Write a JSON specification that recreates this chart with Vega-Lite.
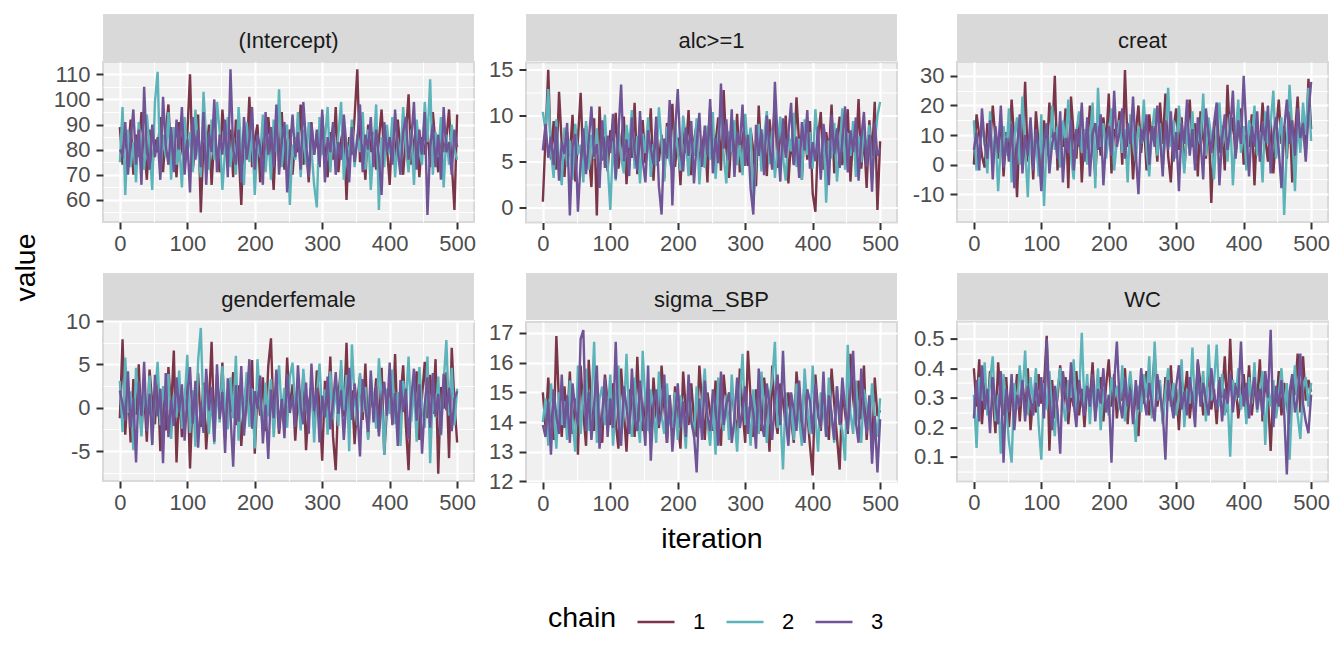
{
"$schema":"https://vega.github.io/schema/vega-lite/v6.json",
"padding":{"top":14,"left":0,"right":0,"bottom":0},
"background":"#FFFFFF",
"datasets":{
"a":[{"i":0,"1":89,"2":75,"3":80},{"i":4,"1":74,"2":97,"3":78},{"i":8,"1":85,"2":62,"3":91},{"i":12,"1":78,"2":88,"3":70},{"i":16,"1":92,"2":73,"3":84},{"i":20,"1":70,"2":83,"3":96},{"i":24,"1":86,"2":67,"3":74},{"i":28,"1":77,"2":91,"3":88},{"i":32,"1":95,"2":79,"3":66},{"i":36,"1":82,"2":72,"3":105},{"i":40,"1":68,"2":94,"3":79},{"i":44,"1":88,"2":81,"3":72},{"i":48,"1":73,"2":64,"3":90},{"i":52,"1":84,"2":99,"3":77},{"i":56,"1":79,"2":111,"3":85},{"i":60,"1":93,"2":70,"3":68},{"i":64,"1":71,"2":86,"3":101},{"i":68,"1":87,"2":77,"3":82},{"i":72,"1":98,"2":95,"3":74},{"i":76,"1":76,"2":68,"3":89},{"i":80,"1":83,"2":89,"3":71},{"i":84,"1":69,"2":74,"3":92},{"i":88,"1":91,"2":82,"3":80},{"i":92,"1":80,"2":65,"3":97},{"i":96,"1":74,"2":93,"3":70},{"i":100,"1":86,"2":78,"3":84},{"i":104,"1":110,"2":87,"3":63},{"i":108,"1":72,"2":71,"3":93},{"i":112,"1":81,"2":96,"3":76},{"i":116,"1":94,"2":80,"3":88},{"i":120,"1":55,"2":69,"3":73},{"i":124,"1":83,"2":103,"3":95},{"i":128,"1":77,"2":84,"3":66},{"i":132,"1":90,"2":72,"3":87},{"i":136,"1":66,"2":92,"3":79},{"i":140,"1":85,"2":76,"3":100},{"i":144,"1":79,"2":99,"3":71},{"i":148,"1":71,"2":87,"3":86},{"i":152,"1":96,"2":64,"3":78},{"i":156,"1":82,"2":80,"3":92},{"i":160,"1":75,"2":93,"3":69},{"i":164,"1":88,"2":73,"3":112},{"i":168,"1":69,"2":85,"3":80},{"i":172,"1":92,"2":70,"3":74},{"i":176,"1":80,"2":97,"3":88},{"i":180,"1":58,"2":79,"3":67},{"i":184,"1":87,"2":66,"3":93},{"i":188,"1":78,"2":91,"3":76},{"i":192,"1":101,"2":75,"3":84},{"i":196,"1":73,"2":88,"3":97},{"i":200,"1":84,"2":62,"3":72},{"i":204,"1":90,"2":83,"3":86},{"i":208,"1":67,"2":77,"3":81},{"i":212,"1":86,"2":94,"3":66},{"i":216,"1":76,"2":71,"3":95},{"i":220,"1":93,"2":86,"3":78},{"i":224,"1":81,"2":68,"3":89},{"i":228,"1":64,"2":92,"3":73},{"i":232,"1":89,"2":79,"3":98},{"i":236,"1":77,"2":104,"3":70},{"i":240,"1":95,"2":73,"3":84},{"i":244,"1":72,"2":85,"3":91},{"i":248,"1":83,"2":90,"3":63},{"i":252,"1":88,"2":58,"3":80},{"i":256,"1":70,"2":82,"3":94},{"i":260,"1":85,"2":76,"3":77},{"i":264,"1":79,"2":95,"3":87},{"i":268,"1":98,"2":69,"3":72},{"i":272,"1":74,"2":88,"3":99},{"i":276,"1":82,"2":74,"3":83},{"i":280,"1":67,"2":91,"3":69},{"i":284,"1":91,"2":80,"3":90},{"i":288,"1":78,"2":66,"3":78},{"i":292,"1":86,"2":57,"3":88},{"i":296,"1":73,"2":93,"3":74},{"i":300,"1":94,"2":78,"3":96},{"i":304,"1":80,"2":84,"3":67},{"i":308,"1":69,"2":97,"3":85},{"i":312,"1":87,"2":71,"3":79},{"i":316,"1":76,"2":89,"3":91},{"i":320,"1":97,"2":75,"3":70},{"i":324,"1":71,"2":86,"3":83},{"i":328,"1":84,"2":99,"3":76},{"i":332,"1":89,"2":68,"3":94},{"i":336,"1":60,"2":83,"3":81},{"i":340,"1":85,"2":77,"3":67},{"i":344,"1":78,"2":92,"3":89},{"i":348,"1":93,"2":73,"3":75},{"i":352,"1":112,"2":86,"3":84},{"i":356,"1":75,"2":79,"3":98},{"i":360,"1":82,"2":95,"3":71},{"i":364,"1":68,"2":72,"3":86},{"i":368,"1":90,"2":88,"3":80},{"i":372,"1":79,"2":64,"3":93},{"i":376,"1":87,"2":81,"3":73},{"i":380,"1":72,"2":98,"3":88},{"i":384,"1":84,"2":56,"3":77},{"i":388,"1":96,"2":85,"3":62},{"i":392,"1":77,"2":73,"3":91},{"i":396,"1":81,"2":90,"3":79},{"i":400,"1":66,"2":78,"3":85},{"i":404,"1":89,"2":93,"3":74},{"i":408,"1":75,"2":69,"3":96},{"i":412,"1":92,"2":84,"3":80},{"i":416,"1":80,"2":76,"3":70},{"i":420,"1":70,"2":97,"3":87},{"i":424,"1":86,"2":81,"3":93},{"i":428,"1":102,"2":71,"3":76},{"i":432,"1":74,"2":88,"3":84},{"i":436,"1":83,"2":66,"3":99},{"i":440,"1":91,"2":92,"3":72},{"i":444,"1":69,"2":79,"3":88},{"i":448,"1":85,"2":74,"3":78},{"i":452,"1":78,"2":99,"3":95},{"i":456,"1":88,"2":83,"3":54},{"i":460,"1":73,"2":108,"3":81},{"i":464,"1":95,"2":70,"3":90},{"i":468,"1":82,"2":87,"3":73},{"i":472,"1":71,"2":77,"3":86},{"i":476,"1":90,"2":93,"3":68},{"i":480,"1":79,"2":65,"3":97},{"i":484,"1":84,"2":86,"3":79},{"i":488,"1":96,"2":74,"3":83},{"i":492,"1":75,"2":90,"3":70},{"i":496,"1":56,"2":80,"3":88},{"i":500,"1":94,"2":76,"3":81}],
"b":[{"i":0,"1":0.6,"2":10.4,"3":6.2},{"i":4,"1":7.8,"2":8.3,"3":9.1},{"i":8,"1":15.0,"2":12.9,"3":5.4},{"i":12,"1":5.2,"2":6.1,"3":7.7},{"i":16,"1":9.4,"2":3.2,"3":4.6},{"i":20,"1":4.1,"2":9.6,"3":8.8},{"i":24,"1":12.6,"2":5.0,"3":2.9},{"i":28,"1":6.9,"2":2.4,"3":7.1},{"i":32,"1":3.3,"2":8.7,"3":5.8},{"i":36,"1":8.2,"2":4.4,"3":9.2},{"i":40,"1":5.6,"2":7.3,"3":-0.9},{"i":44,"1":10.1,"2":3.0,"3":6.6},{"i":48,"1":2.8,"2":9.1,"3":8.0},{"i":52,"1":7.4,"2":5.7,"3":-0.5},{"i":56,"1":12.5,"2":6.8,"3":4.9},{"i":60,"1":4.6,"2":2.7,"3":8.6},{"i":64,"1":8.9,"2":9.4,"3":3.6},{"i":68,"1":6.0,"2":4.1,"3":7.2},{"i":72,"1":2.2,"2":7.9,"3":11.0},{"i":76,"1":9.7,"2":5.3,"3":5.5},{"i":80,"1":-0.9,"2":8.6,"3":6.9},{"i":84,"1":11.0,"2":3.6,"3":2.1},{"i":88,"1":5.1,"2":6.4,"3":9.5},{"i":92,"1":7.7,"2":10.1,"3":4.3},{"i":96,"1":3.9,"2":4.8,"3":7.8},{"i":100,"1":8.4,"2":-0.3,"3":5.9},{"i":104,"1":6.3,"2":7.2,"3":10.2},{"i":108,"1":10.3,"2":2.9,"3":3.1},{"i":112,"1":4.2,"2":8.5,"3":8.1},{"i":116,"1":7.1,"2":5.4,"3":13.4},{"i":120,"1":9.9,"2":3.7,"3":5.0},{"i":124,"1":2.5,"2":9.0,"3":7.4},{"i":128,"1":8.0,"2":6.5,"3":3.4},{"i":132,"1":5.4,"2":10.6,"3":9.8},{"i":136,"1":11.4,"2":4.2,"3":6.1},{"i":140,"1":3.6,"2":7.8,"3":4.0},{"i":144,"1":7.3,"2":2.6,"3":10.5},{"i":148,"1":9.5,"2":8.0,"3":5.2},{"i":152,"1":4.8,"2":5.9,"3":2.7},{"i":156,"1":6.7,"2":9.8,"3":8.4},{"i":160,"1":10.8,"2":3.3,"3":6.3},{"i":164,"1":2.9,"2":6.9,"3":4.7},{"i":168,"1":8.6,"2":4.5,"3":9.9},{"i":172,"1":5.0,"2":10.9,"3":2.3},{"i":176,"1":7.9,"2":7.1,"3":-0.8},{"i":180,"1":3.1,"2":2.8,"3":7.5},{"i":184,"1":9.2,"2":8.8,"3":5.3},{"i":188,"1":6.1,"2":5.0,"3":11.7},{"i":192,"1":11.3,"2":3.8,"3":0.2},{"i":196,"1":4.4,"2":9.3,"3":8.3},{"i":200,"1":7.6,"2":6.2,"3":12.9},{"i":204,"1":2.4,"2":4.0,"3":6.0},{"i":208,"1":8.8,"2":10.0,"3":3.9},{"i":212,"1":5.9,"2":7.4,"3":8.7},{"i":216,"1":10.6,"2":3.4,"3":5.6},{"i":220,"1":3.5,"2":8.1,"3":9.4},{"i":224,"1":7.2,"2":5.6,"3":2.6},{"i":228,"1":9.0,"2":9.7,"3":7.0},{"i":232,"1":4.9,"2":2.5,"3":10.3},{"i":236,"1":6.6,"2":6.7,"3":4.4},{"i":240,"1":8.3,"2":4.3,"3":8.9},{"i":244,"1":2.7,"2":8.9,"3":5.7},{"i":248,"1":10.9,"2":5.2,"3":11.8},{"i":252,"1":5.3,"2":10.4,"3":3.7},{"i":256,"1":7.0,"2":3.1,"3":7.6},{"i":260,"1":9.8,"2":7.6,"3":4.8},{"i":264,"1":4.0,"2":11.1,"3":13.5},{"i":268,"1":12.8,"2":5.8,"3":6.4},{"i":272,"1":6.4,"2":2.6,"3":9.6},{"i":276,"1":3.2,"2":8.3,"3":5.1},{"i":280,"1":8.1,"2":6.0,"3":10.7},{"i":284,"1":5.7,"2":9.5,"3":3.3},{"i":288,"1":10.2,"2":4.6,"3":8.2},{"i":292,"1":3.8,"2":7.0,"3":6.8},{"i":296,"1":7.5,"2":3.5,"3":11.2},{"i":300,"1":9.3,"2":10.2,"3":4.5},{"i":304,"1":4.5,"2":6.3,"3":7.9},{"i":308,"1":8.5,"2":8.7,"3":2.0},{"i":312,"1":6.2,"2":0.2,"3":-0.8},{"i":316,"1":2.3,"2":5.1,"3":9.0},{"i":320,"1":11.1,"2":9.1,"3":5.6},{"i":324,"1":5.5,"2":3.9,"3":8.5},{"i":328,"1":7.8,"2":7.7,"3":3.5},{"i":332,"1":3.4,"2":10.5,"3":10.0},{"i":336,"1":9.6,"2":4.7,"3":6.5},{"i":340,"1":6.5,"2":8.4,"3":4.1},{"i":344,"1":11.6,"2":3.2,"3":13.7},{"i":348,"1":4.3,"2":6.6,"3":7.3},{"i":352,"1":8.7,"2":9.9,"3":2.8},{"i":356,"1":5.8,"2":5.5,"3":9.7},{"i":360,"1":10.0,"2":2.9,"3":5.4},{"i":364,"1":2.6,"2":8.0,"3":8.0},{"i":368,"1":7.4,"2":6.1,"3":11.4},{"i":372,"1":4.7,"2":10.3,"3":4.6},{"i":376,"1":12.0,"2":4.4,"3":7.7},{"i":380,"1":6.8,"2":7.5,"3":3.2},{"i":384,"1":3.0,"2":3.0,"3":9.3},{"i":388,"1":8.9,"2":9.6,"3":6.2},{"i":392,"1":5.2,"2":5.7,"3":10.6},{"i":396,"1":9.4,"2":8.2,"3":4.2},{"i":400,"1":1.5,"2":4.2,"3":7.1},{"i":404,"1":-0.5,"2":10.7,"3":5.0},{"i":408,"1":7.6,"2":6.9,"3":8.8},{"i":412,"1":10.4,"2":3.6,"3":3.0},{"i":416,"1":4.1,"2":8.6,"3":9.1},{"i":420,"1":8.2,"2":0.5,"3":6.7},{"i":424,"1":5.9,"2":7.3,"3":2.4},{"i":428,"1":11.2,"2":5.3,"3":10.1},{"i":432,"1":3.7,"2":9.2,"3":5.8},{"i":436,"1":7.3,"2":2.8,"3":8.6},{"i":440,"1":9.9,"2":6.4,"3":4.3},{"i":444,"1":4.6,"2":10.8,"3":7.2},{"i":448,"1":6.9,"2":4.1,"3":11.0},{"i":452,"1":10.7,"2":8.1,"3":3.8},{"i":456,"1":2.8,"2":5.6,"3":8.4},{"i":460,"1":8.0,"2":9.4,"3":6.0},{"i":464,"1":5.4,"2":3.3,"3":9.8},{"i":468,"1":11.8,"2":7.8,"3":2.9},{"i":472,"1":4.2,"2":4.9,"3":7.5},{"i":476,"1":7.9,"2":8.9,"3":10.4},{"i":480,"1":2.1,"2":5.8,"3":4.4},{"i":484,"1":9.5,"2":9.0,"3":7.9},{"i":488,"1":5.6,"2":2.7,"3":1.7},{"i":492,"1":11.5,"2":7.1,"3":9.2},{"i":496,"1":-0.3,"2":10.0,"3":5.6},{"i":500,"1":7.2,"2":11.5,"3":6.4}],
"c":[{"i":0,"1":0,"2":15,"3":5},{"i":4,"1":17,"2":-2,"3":11},{"i":8,"1":10,"2":5,"3":-2},{"i":12,"1":3,"2":12,"3":19},{"i":16,"1":-1,"2":8,"3":7},{"i":20,"1":14,"2":-3,"3":2},{"i":24,"1":6,"2":18,"3":15},{"i":28,"1":20,"2":1,"3":-5},{"i":32,"1":9,"2":11,"3":13},{"i":36,"1":2,"2":-9,"3":4},{"i":40,"1":16,"2":7,"3":20},{"i":44,"1":-4,"2":13,"3":-1},{"i":48,"1":11,"2":3,"3":9},{"i":52,"1":5,"2":19,"3":1},{"i":56,"1":22,"2":-6,"3":14},{"i":60,"1":8,"2":9,"3":-8},{"i":64,"1":-11,"2":16,"3":6},{"i":68,"1":13,"2":0,"3":17},{"i":72,"1":4,"2":23,"3":-3},{"i":76,"1":28,"2":6,"3":10},{"i":80,"1":1,"2":-11,"3":3},{"i":84,"1":12,"2":14,"3":16},{"i":88,"1":-5,"2":4,"3":-2},{"i":92,"1":18,"2":10,"3":12},{"i":96,"1":7,"2":-4,"3":5},{"i":100,"1":-3,"2":17,"3":-9},{"i":104,"1":15,"2":-14,"3":8},{"i":108,"1":3,"2":9,"3":14},{"i":112,"1":21,"2":2,"3":-3},{"i":116,"1":9,"2":20,"3":7},{"i":120,"1":30,"2":5,"3":11},{"i":124,"1":-2,"2":13,"3":2},{"i":128,"1":14,"2":-1,"3":18},{"i":132,"1":6,"2":15,"3":-6},{"i":136,"1":19,"2":7,"3":9},{"i":140,"1":-8,"2":22,"3":4},{"i":144,"1":23,"2":3,"3":15},{"i":148,"1":10,"2":-5,"3":-2},{"i":152,"1":2,"2":11,"3":12},{"i":156,"1":17,"2":18,"3":6},{"i":160,"1":-6,"2":4,"3":21},{"i":164,"1":11,"2":12,"3":1},{"i":168,"1":5,"2":0,"3":16},{"i":172,"1":20,"2":8,"3":-4},{"i":176,"1":8,"2":21,"3":10},{"i":180,"1":-4,"2":-8,"3":14},{"i":184,"1":13,"2":26,"3":5},{"i":188,"1":3,"2":6,"3":17},{"i":192,"1":16,"2":14,"3":-7},{"i":196,"1":7,"2":2,"3":8},{"i":200,"1":24,"2":10,"3":13},{"i":204,"1":-3,"2":19,"3":3},{"i":208,"1":12,"2":-2,"3":25},{"i":212,"1":9,"2":8,"3":6},{"i":216,"1":18,"2":15,"3":11},{"i":220,"1":0,"2":4,"3":19},{"i":224,"1":32,"2":12,"3":2},{"i":228,"1":6,"2":-6,"3":14},{"i":232,"1":14,"2":17,"3":7},{"i":236,"1":-5,"2":9,"3":23},{"i":240,"1":11,"2":1,"3":4},{"i":244,"1":20,"2":13,"3":-10},{"i":248,"1":4,"2":7,"3":12},{"i":252,"1":15,"2":22,"3":8},{"i":256,"1":-2,"2":5,"3":17},{"i":260,"1":17,"2":-4,"3":0},{"i":264,"1":8,"2":11,"3":13},{"i":268,"1":13,"2":19,"3":6},{"i":272,"1":1,"2":3,"3":20},{"i":276,"1":21,"2":14,"3":9},{"i":280,"1":7,"2":-1,"3":-4},{"i":284,"1":24,"2":10,"3":15},{"i":288,"1":3,"2":26,"3":5},{"i":292,"1":-6,"2":6,"3":18},{"i":296,"1":12,"2":15,"3":1},{"i":300,"1":19,"2":2,"3":11},{"i":304,"1":5,"2":20,"3":-9},{"i":308,"1":16,"2":8,"3":14},{"i":312,"1":-1,"2":-3,"3":7},{"i":316,"1":10,"2":13,"3":22},{"i":320,"1":22,"2":4,"3":3},{"i":324,"1":6,"2":18,"3":12},{"i":328,"1":14,"2":0,"3":-2},{"i":332,"1":-4,"2":11,"3":16},{"i":336,"1":18,"2":7,"3":8},{"i":340,"1":9,"2":24,"3":-5},{"i":344,"1":2,"2":3,"3":19},{"i":348,"1":15,"2":16,"3":10},{"i":352,"1":-13,"2":9,"3":4},{"i":356,"1":11,"2":-5,"3":14},{"i":360,"1":20,"2":12,"3":21},{"i":364,"1":4,"2":21,"3":-7},{"i":368,"1":13,"2":6,"3":9},{"i":372,"1":-2,"2":14,"3":17},{"i":376,"1":27,"2":1,"3":5},{"i":380,"1":8,"2":17,"3":12},{"i":384,"1":16,"2":-7,"3":25},{"i":388,"1":3,"2":10,"3":2},{"i":392,"1":12,"2":22,"3":15},{"i":396,"1":19,"2":4,"3":7},{"i":400,"1":0,"2":13,"3":30},{"i":404,"1":10,"2":-2,"3":11},{"i":408,"1":6,"2":15,"3":-4},{"i":412,"1":17,"2":8,"3":13},{"i":416,"1":-7,"2":20,"3":6},{"i":420,"1":14,"2":3,"3":18},{"i":424,"1":5,"2":11,"3":1},{"i":428,"1":21,"2":-6,"3":14},{"i":432,"1":9,"2":18,"3":8},{"i":436,"1":1,"2":7,"3":20},{"i":440,"1":15,"2":14,"3":-3},{"i":444,"1":-3,"2":25,"3":10},{"i":448,"1":11,"2":2,"3":16},{"i":452,"1":22,"2":9,"3":5},{"i":456,"1":7,"2":16,"3":-8},{"i":460,"1":13,"2":-17,"3":12},{"i":464,"1":2,"2":6,"3":22},{"i":468,"1":18,"2":27,"3":7},{"i":472,"1":-6,"2":12,"3":15},{"i":476,"1":10,"2":-9,"3":3},{"i":480,"1":23,"2":15,"3":19},{"i":484,"1":6,"2":4,"3":9},{"i":488,"1":15,"2":21,"3":14},{"i":492,"1":3,"2":10,"3":1},{"i":496,"1":29,"2":26,"3":17},{"i":500,"1":12,"2":8,"3":28}],
"d":[{"i":0,"1":-1.2,"2":3.1,"3":2.0},{"i":4,"1":7.9,"2":-2.8,"3":0.4},{"i":8,"1":-3.1,"2":5.8,"3":-1.5},{"i":12,"1":2.4,"2":-0.6,"3":4.2},{"i":16,"1":-4.0,"2":1.9,"3":-2.3},{"i":20,"1":3.3,"2":-4.9,"3":1.1},{"i":24,"1":-0.8,"2":4.6,"3":-6.3},{"i":28,"1":5.0,"2":0.3,"3":3.0},{"i":32,"1":-2.5,"2":-3.3,"3":-0.9},{"i":36,"1":1.7,"2":2.8,"3":5.3},{"i":40,"1":-3.9,"2":-1.4,"3":-2.7},{"i":44,"1":4.4,"2":3.7,"3":1.6},{"i":48,"1":0.6,"2":-4.1,"3":-4.3},{"i":52,"1":-1.9,"2":1.2,"3":3.8},{"i":56,"1":3.6,"2":5.3,"3":-1.0},{"i":60,"1":-5.0,"2":-2.0,"3":2.2},{"i":64,"1":1.0,"2":2.5,"3":-6.4},{"i":68,"1":-2.6,"2":-0.2,"3":4.0},{"i":72,"1":4.7,"2":3.9,"3":-3.4},{"i":76,"1":-0.3,"2":-3.6,"3":0.9},{"i":80,"1":6.6,"2":1.5,"3":-2.1},{"i":84,"1":-6.3,"2":-1.1,"3":3.5},{"i":88,"1":2.1,"2":4.3,"3":-0.5},{"i":92,"1":-3.4,"2":-2.4,"3":2.7},{"i":96,"1":0.9,"2":0.8,"3":-3.8},{"i":100,"1":3.2,"2":6.1,"3":1.3},{"i":104,"1":-7.0,"2":-2.9,"3":4.7},{"i":108,"1":1.4,"2":2.0,"3":-1.8},{"i":112,"1":-1.6,"2":-4.5,"3":3.1},{"i":116,"1":4.0,"2":5.4,"3":-4.6},{"i":120,"1":-2.2,"2":9.2,"3":0.5},{"i":124,"1":2.9,"2":-0.9,"3":-2.9},{"i":128,"1":-4.8,"2":3.0,"3":4.5},{"i":132,"1":0.2,"2":-3.0,"3":-0.3},{"i":136,"1":7.6,"2":1.3,"3":2.4},{"i":140,"1":-2.9,"2":-4.2,"3":-3.9},{"i":144,"1":3.8,"2":2.6,"3":5.0},{"i":148,"1":-1.1,"2":-1.7,"3":-1.3},{"i":152,"1":5.2,"2":4.8,"3":1.8},{"i":156,"1":-3.6,"2":0.0,"3":-5.2},{"i":160,"1":1.5,"2":-2.5,"3":3.4},{"i":164,"1":-0.5,"2":3.5,"3":-0.8},{"i":168,"1":4.1,"2":-1.2,"3":-6.8},{"i":172,"1":-2.0,"2":6.0,"3":2.6},{"i":176,"1":2.6,"2":-3.8,"3":-1.6},{"i":180,"1":-4.4,"2":1.7,"3":4.8},{"i":184,"1":0.4,"2":-0.4,"3":-3.2},{"i":188,"1":3.0,"2":4.1,"3":0.7},{"i":192,"1":-1.3,"2":-2.2,"3":5.6},{"i":196,"1":5.5,"2":2.2,"3":-2.4},{"i":200,"1":-5.3,"2":-4.7,"3":1.9},{"i":204,"1":1.9,"2":5.6,"3":-0.1},{"i":208,"1":-0.9,"2":0.6,"3":3.7},{"i":212,"1":3.5,"2":-2.7,"3":-4.1},{"i":216,"1":-2.7,"2":2.9,"3":0.3},{"i":220,"1":4.8,"2":-1.0,"3":-5.9},{"i":224,"1":8.0,"2":3.3,"3":2.1},{"i":228,"1":-1.7,"2":-3.4,"3":-1.2},{"i":232,"1":2.2,"2":1.1,"3":4.4},{"i":236,"1":-3.0,"2":4.9,"3":-2.6},{"i":240,"1":0.7,"2":-0.6,"3":1.0},{"i":244,"1":-2.1,"2":2.3,"3":-3.5},{"i":248,"1":5.8,"2":-2.3,"3":3.9},{"i":252,"1":-0.2,"2":3.6,"3":-0.6},{"i":256,"1":2.7,"2":5.2,"3":1.5},{"i":260,"1":-3.8,"2":-0.1,"3":-2.2},{"i":264,"1":1.2,"2":2.8,"3":4.9},{"i":268,"1":-1.5,"2":-2.6,"3":0.1},{"i":272,"1":3.9,"2":4.5,"3":-1.9},{"i":276,"1":-4.9,"2":0.4,"3":2.9},{"i":280,"1":0.3,"2":-1.5,"3":-3.0},{"i":284,"1":2.5,"2":3.2,"3":5.1},{"i":288,"1":-2.3,"2":-4.0,"3":-0.4},{"i":292,"1":4.3,"2":1.6,"3":2.3},{"i":296,"1":0.0,"2":5.1,"3":-4.0},{"i":300,"1":-6.1,"2":-0.8,"3":1.4},{"i":304,"1":3.1,"2":2.1,"3":-1.1},{"i":308,"1":-0.6,"2":-3.1,"3":3.6},{"i":312,"1":5.9,"2":4.2,"3":-2.5},{"i":316,"1":-3.3,"2":-1.3,"3":0.6},{"i":320,"1":-7.2,"2":2.7,"3":4.1},{"i":324,"1":1.6,"2":-2.1,"3":-0.7},{"i":328,"1":4.5,"2":5.5,"3":2.0},{"i":332,"1":-1.0,"2":-0.3,"3":-3.7},{"i":336,"1":7.5,"2":3.8,"3":1.2},{"i":340,"1":-2.4,"2":-5.0,"3":4.6},{"i":344,"1":2.0,"2":7.3,"3":-1.4},{"i":348,"1":-4.2,"2":1.0,"3":2.8},{"i":352,"1":0.8,"2":-2.0,"3":-0.2},{"i":356,"1":3.7,"2":4.0,"3":-5.6},{"i":360,"1":-1.4,"2":-0.5,"3":3.3},{"i":364,"1":5.1,"2":2.4,"3":0.0},{"i":368,"1":-3.5,"2":-3.7,"3":-2.8},{"i":372,"1":1.8,"2":3.4,"3":4.3},{"i":376,"1":-0.4,"2":0.7,"3":-1.7},{"i":380,"1":3.4,"2":-2.4,"3":2.5},{"i":384,"1":-2.8,"2":5.7,"3":-3.3},{"i":388,"1":4.6,"2":1.4,"3":0.8},{"i":392,"1":-5.4,"2":-5.4,"3":3.0},{"i":396,"1":0.1,"2":2.2,"3":-0.9},{"i":400,"1":2.8,"2":-0.7,"3":5.2},{"i":404,"1":-1.8,"2":4.4,"3":-2.0},{"i":408,"1":6.2,"2":-1.9,"3":1.7},{"i":412,"1":-3.2,"2":1.8,"3":-4.4},{"i":416,"1":1.1,"2":-4.4,"3":3.2},{"i":420,"1":4.9,"2":3.1,"3":-0.5},{"i":424,"1":-2.0,"2":0.5,"3":2.2},{"i":428,"1":-7.2,"2":5.9,"3":-3.6},{"i":432,"1":2.3,"2":-1.6,"3":1.1},{"i":436,"1":0.5,"2":2.6,"3":4.5},{"i":440,"1":4.2,"2":-3.9,"3":-1.5},{"i":444,"1":-3.7,"2":4.7,"3":2.7},{"i":448,"1":1.3,"2":0.2,"3":-5.3},{"i":452,"1":5.3,"2":-2.3,"3":0.4},{"i":456,"1":-1.2,"2":5.9,"3":3.5},{"i":460,"1":3.8,"2":-6.4,"3":-2.3},{"i":464,"1":-0.7,"2":1.9,"3":4.0},{"i":468,"1":5.6,"2":-1.1,"3":-1.0},{"i":472,"1":-7.6,"2":3.6,"3":1.6},{"i":476,"1":2.4,"2":-3.2,"3":-3.1},{"i":480,"1":-0.1,"2":2.9,"3":3.9},{"i":484,"1":4.1,"2":7.8,"3":-0.3},{"i":488,"1":-5.8,"2":-0.9,"3":2.3},{"i":492,"1":6.9,"2":4.6,"3":-2.7},{"i":496,"1":0.6,"2":-2.0,"3":1.0},{"i":500,"1":-4.0,"2":2.2,"3":1.9}],
"e":[{"i":0,"1":15.0,"2":14.0,"3":13.9},{"i":4,"1":13.8,"2":14.8,"3":13.5},{"i":8,"1":15.5,"2":13.2,"3":14.7},{"i":12,"1":14.1,"2":15.3,"3":12.9},{"i":16,"1":13.4,"2":14.4,"3":15.1},{"i":20,"1":16.9,"2":13.1,"3":14.2},{"i":24,"1":14.6,"2":15.0,"3":13.6},{"i":28,"1":13.5,"2":13.9,"3":15.6},{"i":32,"1":15.2,"2":14.7,"3":13.8},{"i":36,"1":14.0,"2":13.4,"3":14.9},{"i":40,"1":15.7,"2":15.4,"3":13.3},{"i":44,"1":13.6,"2":14.1,"3":15.3},{"i":48,"1":14.8,"2":13.0,"3":14.4},{"i":52,"1":12.9,"2":15.9,"3":13.9},{"i":56,"1":15.9,"2":13.6,"3":16.8},{"i":60,"1":14.3,"2":14.9,"3":17.1},{"i":64,"1":13.2,"2":15.8,"3":13.7},{"i":68,"1":16.1,"2":13.7,"3":15.0},{"i":72,"1":14.5,"2":14.5,"3":13.4},{"i":76,"1":13.7,"2":16.7,"3":14.6},{"i":80,"1":15.4,"2":13.3,"3":15.9},{"i":84,"1":14.2,"2":14.8,"3":13.1},{"i":88,"1":13.3,"2":15.2,"3":14.3},{"i":92,"1":15.6,"2":13.9,"3":15.5},{"i":96,"1":14.7,"2":14.3,"3":13.5},{"i":100,"1":13.9,"2":15.6,"3":14.8},{"i":104,"1":15.3,"2":13.2,"3":13.8},{"i":108,"1":14.0,"2":14.7,"3":16.7},{"i":112,"1":13.1,"2":15.9,"3":14.0},{"i":116,"1":15.8,"2":13.6,"3":13.2},{"i":120,"1":14.4,"2":14.2,"3":15.2},{"i":124,"1":13.0,"2":16.3,"3":14.5},{"i":128,"1":15.1,"2":14.0,"3":13.6},{"i":132,"1":14.6,"2":13.5,"3":15.8},{"i":136,"1":13.5,"2":15.5,"3":14.1},{"i":140,"1":16.2,"2":14.1,"3":13.7},{"i":144,"1":14.1,"2":13.3,"3":15.4},{"i":148,"1":13.7,"2":16.4,"3":14.3},{"i":152,"1":15.0,"2":14.6,"3":13.2},{"i":156,"1":14.3,"2":13.7,"3":15.9},{"i":160,"1":13.4,"2":15.1,"3":12.7},{"i":164,"1":15.5,"2":14.4,"3":14.6},{"i":168,"1":14.2,"2":13.3,"3":15.1},{"i":172,"1":13.8,"2":15.7,"3":13.9},{"i":176,"1":15.9,"2":14.2,"3":14.4},{"i":180,"1":14.5,"2":13.6,"3":15.6},{"i":184,"1":13.3,"2":15.3,"3":13.3},{"i":188,"1":14.9,"2":14.0,"3":14.9},{"i":192,"1":13.6,"2":13.8,"3":13.0},{"i":196,"1":15.2,"2":15.0,"3":14.2},{"i":200,"1":14.0,"2":13.4,"3":15.3},{"i":204,"1":13.1,"2":14.9,"3":13.8},{"i":208,"1":15.7,"2":14.3,"3":14.7},{"i":212,"1":14.4,"2":13.1,"3":13.5},{"i":216,"1":13.9,"2":15.4,"3":15.6},{"i":220,"1":15.3,"2":14.1,"3":14.0},{"i":224,"1":14.1,"2":13.5,"3":13.6},{"i":228,"1":13.5,"2":15.2,"3":12.3},{"i":232,"1":15.9,"2":13.8,"3":14.8},{"i":236,"1":14.7,"2":14.6,"3":13.4},{"i":240,"1":13.4,"2":15.8,"3":15.4},{"i":244,"1":15.0,"2":14.0,"3":14.2},{"i":248,"1":14.3,"2":13.2,"3":13.7},{"i":252,"1":13.7,"2":14.7,"3":15.1},{"i":256,"1":15.4,"2":12.9,"3":14.5},{"i":260,"1":14.0,"2":15.5,"3":13.2},{"i":264,"1":13.2,"2":14.3,"3":15.7},{"i":268,"1":15.6,"2":13.7,"3":13.9},{"i":272,"1":14.6,"2":14.9,"3":14.6},{"i":276,"1":13.8,"2":13.4,"3":15.0},{"i":280,"1":15.2,"2":15.6,"3":13.3},{"i":284,"1":14.2,"2":14.2,"3":14.1},{"i":288,"1":13.6,"2":13.0,"3":15.5},{"i":292,"1":15.8,"2":14.8,"3":13.8},{"i":296,"1":14.4,"2":16.3,"3":14.4},{"i":300,"1":13.3,"2":13.9,"3":15.2},{"i":304,"1":16.4,"2":14.5,"3":13.6},{"i":308,"1":14.8,"2":13.2,"3":14.9},{"i":312,"1":13.5,"2":15.1,"3":14.3},{"i":316,"1":15.1,"2":14.0,"3":13.1},{"i":320,"1":14.0,"2":13.6,"3":15.8},{"i":324,"1":13.7,"2":15.7,"3":14.0},{"i":328,"1":15.5,"2":14.4,"3":13.5},{"i":332,"1":14.5,"2":13.3,"3":15.3},{"i":336,"1":13.0,"2":14.9,"3":14.6},{"i":340,"1":15.9,"2":15.4,"3":13.4},{"i":344,"1":14.2,"2":16.7,"3":14.8},{"i":348,"1":13.6,"2":13.8,"3":15.6},{"i":352,"1":15.3,"2":14.3,"3":13.9},{"i":356,"1":14.7,"2":12.4,"3":16.4},{"i":360,"1":13.9,"2":15.0,"3":14.1},{"i":364,"1":15.0,"2":13.7,"3":13.2},{"i":368,"1":14.1,"2":14.6,"3":15.0},{"i":372,"1":13.3,"2":13.4,"3":14.4},{"i":376,"1":15.7,"2":15.3,"3":13.7},{"i":380,"1":14.6,"2":14.1,"3":15.4},{"i":384,"1":13.8,"2":13.2,"3":14.0},{"i":388,"1":15.4,"2":15.8,"3":13.3},{"i":392,"1":14.3,"2":14.5,"3":15.1},{"i":396,"1":13.2,"2":13.6,"3":14.7},{"i":400,"1":12.2,"2":15.9,"3":13.6},{"i":404,"1":15.6,"2":14.2,"3":15.3},{"i":408,"1":14.4,"2":13.0,"3":14.2},{"i":412,"1":13.7,"2":15.0,"3":13.8},{"i":416,"1":15.2,"2":14.4,"3":15.7},{"i":420,"1":14.0,"2":13.5,"3":13.5},{"i":424,"1":13.4,"2":15.5,"3":14.9},{"i":428,"1":15.8,"2":14.1,"3":14.3},{"i":432,"1":14.6,"2":13.3,"3":13.4},{"i":436,"1":13.5,"2":15.2,"3":15.2},{"i":440,"1":12.4,"2":14.0,"3":13.9},{"i":444,"1":15.1,"2":13.7,"3":15.5},{"i":448,"1":14.3,"2":12.7,"3":14.5},{"i":452,"1":13.6,"2":16.6,"3":13.7},{"i":456,"1":16.3,"2":14.3,"3":15.0},{"i":460,"1":14.8,"2":13.6,"3":16.4},{"i":464,"1":13.9,"2":15.4,"3":14.0},{"i":468,"1":15.4,"2":14.1,"3":13.3},{"i":472,"1":14.1,"2":13.3,"3":15.8},{"i":476,"1":15.9,"2":15.1,"3":14.4},{"i":480,"1":13.4,"2":14.5,"3":13.6},{"i":484,"1":14.7,"2":13.8,"3":14.9},{"i":488,"1":13.0,"2":15.3,"3":12.6},{"i":492,"1":15.5,"2":14.2,"3":14.2},{"i":496,"1":14.2,"2":13.5,"3":12.3},{"i":500,"1":14.4,"2":14.8,"3":14.1}],
"f":[{"i":0,"1":0.40,"2":0.31,"3":0.23},{"i":4,"1":0.27,"2":0.13,"3":0.36},{"i":8,"1":0.43,"2":0.37,"3":0.22},{"i":12,"1":0.21,"2":0.29,"3":0.41},{"i":16,"1":0.35,"2":0.42,"3":0.26},{"i":20,"1":0.25,"2":0.24,"3":0.33},{"i":24,"1":0.39,"2":0.36,"3":0.18},{"i":28,"1":0.30,"2":0.44,"3":0.37},{"i":32,"1":0.18,"2":0.22,"3":0.28},{"i":36,"1":0.42,"2":0.31,"3":0.21},{"i":40,"1":0.29,"2":0.11,"3":0.39},{"i":44,"1":0.24,"2":0.38,"3":0.08},{"i":48,"1":0.37,"2":0.27,"3":0.33},{"i":52,"1":0.20,"2":0.15,"3":0.25},{"i":56,"1":0.33,"2":0.08,"3":0.38},{"i":60,"1":0.27,"2":0.35,"3":0.19},{"i":64,"1":0.38,"2":0.26,"3":0.31},{"i":68,"1":0.22,"2":0.41,"3":0.27},{"i":72,"1":0.35,"2":0.30,"3":0.36},{"i":76,"1":0.26,"2":0.46,"3":0.22},{"i":80,"1":0.40,"2":0.24,"3":0.34},{"i":84,"1":0.19,"2":0.37,"3":0.29},{"i":88,"1":0.31,"2":0.28,"3":0.24},{"i":92,"1":0.25,"2":0.40,"3":0.35},{"i":96,"1":0.38,"2":0.21,"3":0.27},{"i":100,"1":0.28,"2":0.09,"3":0.37},{"i":104,"1":0.34,"2":0.35,"3":0.23},{"i":108,"1":0.51,"2":0.26,"3":0.50},{"i":112,"1":0.12,"2":0.39,"3":0.30},{"i":116,"1":0.36,"2":0.25,"3":0.19},{"i":120,"1":0.23,"2":0.17,"3":0.34},{"i":124,"1":0.30,"2":0.33,"3":0.26},{"i":128,"1":0.41,"2":0.40,"3":0.11},{"i":132,"1":0.26,"2":0.28,"3":0.39},{"i":136,"1":0.37,"2":0.22,"3":0.31},{"i":140,"1":0.21,"2":0.36,"3":0.25},{"i":144,"1":0.32,"2":0.30,"3":0.42},{"i":148,"1":0.27,"2":0.43,"3":0.28},{"i":152,"1":0.39,"2":0.24,"3":0.20},{"i":156,"1":0.24,"2":0.31,"3":0.36},{"i":160,"1":0.33,"2":0.52,"3":0.29},{"i":164,"1":0.20,"2":0.26,"3":0.24},{"i":168,"1":0.35,"2":0.38,"3":0.34},{"i":172,"1":0.29,"2":0.21,"3":0.27},{"i":176,"1":0.42,"2":0.35,"3":0.38},{"i":180,"1":0.25,"2":0.27,"3":0.22},{"i":184,"1":0.31,"2":0.40,"3":0.33},{"i":188,"1":0.37,"2":0.19,"3":0.28},{"i":192,"1":0.22,"2":0.33,"3":0.40},{"i":196,"1":0.34,"2":0.29,"3":0.25},{"i":200,"1":0.43,"2":0.24,"3":0.31},{"i":204,"1":0.27,"2":0.37,"3":0.08},{"i":208,"1":0.38,"2":0.30,"3":0.35},{"i":212,"1":0.23,"2":0.34,"3":0.49},{"i":216,"1":0.33,"2":0.26,"3":0.29},{"i":220,"1":0.29,"2":0.41,"3":0.23},{"i":224,"1":0.40,"2":0.22,"3":0.37},{"i":228,"1":0.21,"2":0.32,"3":0.27},{"i":232,"1":0.36,"2":0.39,"3":0.33},{"i":236,"1":0.26,"2":0.28,"3":0.21},{"i":240,"1":0.31,"2":0.15,"3":0.36},{"i":244,"1":0.17,"2":0.34,"3":0.26},{"i":248,"1":0.35,"2":0.25,"3":0.40},{"i":252,"1":0.28,"2":0.38,"3":0.30},{"i":256,"1":0.39,"2":0.30,"3":0.24},{"i":260,"1":0.24,"2":0.44,"3":0.35},{"i":264,"1":0.32,"2":0.23,"3":0.28},{"i":268,"1":0.45,"2":0.49,"3":0.22},{"i":272,"1":0.27,"2":0.29,"3":0.38},{"i":276,"1":0.34,"2":0.36,"3":0.31},{"i":280,"1":0.22,"2":0.21,"3":0.25},{"i":284,"1":0.37,"2":0.32,"3":0.09},{"i":288,"1":0.29,"2":0.40,"3":0.36},{"i":292,"1":0.41,"2":0.27,"3":0.29},{"i":296,"1":0.25,"2":0.35,"3":0.23},{"i":300,"1":0.33,"2":0.24,"3":0.34},{"i":304,"1":0.19,"2":0.31,"3":0.41},{"i":308,"1":0.36,"2":0.43,"3":0.26},{"i":312,"1":0.30,"2":0.20,"3":0.32},{"i":316,"1":0.39,"2":0.33,"3":0.24},{"i":320,"1":0.23,"2":0.28,"3":0.37},{"i":324,"1":0.32,"2":0.47,"3":0.30},{"i":328,"1":0.27,"2":0.25,"3":0.20},{"i":332,"1":0.42,"2":0.34,"3":0.43},{"i":336,"1":0.35,"2":0.30,"3":0.27},{"i":340,"1":0.24,"2":0.39,"3":0.35},{"i":344,"1":0.31,"2":0.22,"3":0.29},{"i":348,"1":0.38,"2":0.48,"3":0.24},{"i":352,"1":0.26,"2":0.29,"3":0.40},{"i":356,"1":0.33,"2":0.35,"3":0.31},{"i":360,"1":0.21,"2":0.48,"3":0.26},{"i":364,"1":0.37,"2":0.27,"3":0.36},{"i":368,"1":0.30,"2":0.38,"3":0.22},{"i":372,"1":0.44,"2":0.24,"3":0.33},{"i":376,"1":0.25,"2":0.31,"3":0.28},{"i":380,"1":0.50,"2":0.10,"3":0.38},{"i":384,"1":0.28,"2":0.36,"3":0.25},{"i":388,"1":0.35,"2":0.29,"3":0.34},{"i":392,"1":0.23,"2":0.40,"3":0.30},{"i":396,"1":0.32,"2":0.26,"3":0.49},{"i":400,"1":0.38,"2":0.33,"3":0.27},{"i":404,"1":0.27,"2":0.21,"3":0.35},{"i":408,"1":0.41,"2":0.37,"3":0.23},{"i":412,"1":0.24,"2":0.28,"3":0.31},{"i":416,"1":0.34,"2":0.42,"3":0.37},{"i":420,"1":0.29,"2":0.25,"3":0.26},{"i":424,"1":0.43,"2":0.32,"3":0.33},{"i":428,"1":0.22,"2":0.39,"3":0.24},{"i":432,"1":0.36,"2":0.14,"3":0.39},{"i":436,"1":0.30,"2":0.34,"3":0.30},{"i":440,"1":0.12,"2":0.27,"3":0.53},{"i":444,"1":0.33,"2":0.36,"3":0.20},{"i":448,"1":0.26,"2":0.23,"3":0.34},{"i":452,"1":0.39,"2":0.31,"3":0.27},{"i":456,"1":0.24,"2":0.40,"3":0.36},{"i":460,"1":0.35,"2":0.26,"3":0.25},{"i":464,"1":0.28,"2":0.35,"3":0.04},{"i":468,"1":0.21,"2":0.09,"3":0.32},{"i":472,"1":0.37,"2":0.30,"3":0.38},{"i":476,"1":0.31,"2":0.41,"3":0.25},{"i":480,"1":0.45,"2":0.24,"3":0.30},{"i":484,"1":0.25,"2":0.16,"3":0.45},{"i":488,"1":0.44,"2":0.33,"3":0.28},{"i":492,"1":0.29,"2":0.37,"3":0.22},{"i":496,"1":0.36,"2":0.27,"3":0.18},{"i":500,"1":0.32,"2":0.35,"3":0.31}]
},
"hconcat":[
{"width":52,"height":507,"data":{"values":[{"t":"value"}]},"mark":{"type":"text","angle":270,"fontSize":28.5,"color":"#000000"},"encoding":{"text":{"field":"t","type":"nominal"}}},
{"concat":[
{"vconcat":[
{"width":371,"height":47,"data":{"values":[{"p":"(Intercept)"}]},"view":{"fill":"#D9D9D9","stroke":null},"mark":{"type":"text","fontSize":22,"color":"#1A1A1A","dy":3},"encoding":{"text":{"field":"p","type":"nominal"}}},
{"width":371,"height":160,"data":{"name":"a"},"transform":[{"fold":["1","2","3"],"as":["chain","value"]}],"view":{"fill":"#F0F0F0","stroke":"#D9D9D9","strokeWidth":2},"mark":{"type":"line","strokeWidth":2.4},
"encoding":{"x":{"field":"i","type":"quantitative","scale":{"domain":[-25,525],"nice":false,"zero":false},"axis":{"title":null,"values":[0,50,100,150,200,250,300,350,400,450,500],"labelExpr":"datum.value % 100 === 0 ? datum.label : ''","tickOpacity":{"condition":{"test":"datum.value % 100 === 0","value":1},"value":0},"gridWidth":{"condition":{"test":"datum.value % 100 === 0","value":2.2},"value":1.1}}},
"y":{"field":"value","type":"quantitative","scale":{"domain":[51.2,114.9],"nice":false,"zero":false},"axis":{"title":null,"format":"d","minExtent":50,"values":[55,60,65,70,75,80,85,90,95,100,105,110],"labelExpr":"datum.value % 10 === 0 ? datum.label : ''","tickOpacity":{"condition":{"test":"datum.value % 10 === 0","value":1},"value":0},"gridWidth":{"condition":{"test":"datum.value % 10 === 0","value":2.2},"value":1.1}}},
"color":{"field":"chain","type":"nominal"}}}
],"spacing":0},
{"vconcat":[
{"width":371,"height":47,"data":{"values":[{"p":"alc>=1"}]},"view":{"fill":"#D9D9D9","stroke":null},"mark":{"type":"text","fontSize":22,"color":"#1A1A1A","dy":3},"encoding":{"text":{"field":"p","type":"nominal"}}},
{"width":371,"height":160,"data":{"name":"b"},"transform":[{"fold":["1","2","3"],"as":["chain","value"]}],"view":{"fill":"#F0F0F0","stroke":"#D9D9D9","strokeWidth":2},"mark":{"type":"line","strokeWidth":2.4},
"encoding":{"x":{"field":"i","type":"quantitative","scale":{"domain":[-25,525],"nice":false,"zero":false},"axis":{"title":null,"values":[0,50,100,150,200,250,300,350,400,450,500],"labelExpr":"datum.value % 100 === 0 ? datum.label : ''","tickOpacity":{"condition":{"test":"datum.value % 100 === 0","value":1},"value":0},"gridWidth":{"condition":{"test":"datum.value % 100 === 0","value":2.2},"value":1.1}}},
"y":{"field":"value","type":"quantitative","scale":{"domain":[-1.67,15.8],"nice":false,"zero":false},"axis":{"title":null,"format":"d","minExtent":39,"values":[0,2.5,5,7.5,10,12.5,15],"labelExpr":"datum.value % 5 === 0 ? datum.label : ''","tickOpacity":{"condition":{"test":"datum.value % 5 === 0","value":1},"value":0},"gridWidth":{"condition":{"test":"datum.value % 5 === 0","value":2.2},"value":1.1}}},
"color":{"field":"chain","type":"nominal"}}}
],"spacing":-3.5},
{"vconcat":[
{"width":371,"height":47,"data":{"values":[{"p":"creat"}]},"view":{"fill":"#D9D9D9","stroke":null},"mark":{"type":"text","fontSize":22,"color":"#1A1A1A","dy":3},"encoding":{"text":{"field":"p","type":"nominal"}}},
{"width":371,"height":160,"data":{"name":"c"},"transform":[{"fold":["1","2","3"],"as":["chain","value"]}],"view":{"fill":"#F0F0F0","stroke":"#D9D9D9","strokeWidth":2},"mark":{"type":"line","strokeWidth":2.4},
"encoding":{"x":{"field":"i","type":"quantitative","scale":{"domain":[-25,525],"nice":false,"zero":false},"axis":{"title":null,"values":[0,50,100,150,200,250,300,350,400,450,500],"labelExpr":"datum.value % 100 === 0 ? datum.label : ''","tickOpacity":{"condition":{"test":"datum.value % 100 === 0","value":1},"value":0},"gridWidth":{"condition":{"test":"datum.value % 100 === 0","value":2.2},"value":1.1}}},
"y":{"field":"value","type":"quantitative","scale":{"domain":[-19.4,34.7],"nice":false,"zero":false},"axis":{"title":null,"format":"d","minExtent":47,"values":[-15,-10,-5,0,5,10,15,20,25,30],"labelExpr":"datum.value % 10 === 0 ? datum.label : ''","tickOpacity":{"condition":{"test":"datum.value % 10 === 0","value":1},"value":0},"gridWidth":{"condition":{"test":"datum.value % 10 === 0","value":2.2},"value":1.1}}},
"color":{"field":"chain","type":"nominal"}}}
],"spacing":0},
{"vconcat":[
{"width":371,"height":47,"data":{"values":[{"p":"genderfemale"}]},"view":{"fill":"#D9D9D9","stroke":null},"mark":{"type":"text","fontSize":22,"color":"#1A1A1A","dy":3},"encoding":{"text":{"field":"p","type":"nominal"}}},
{"width":371,"height":160,"data":{"name":"d"},"transform":[{"fold":["1","2","3"],"as":["chain","value"]}],"view":{"fill":"#F0F0F0","stroke":"#D9D9D9","strokeWidth":2},"mark":{"type":"line","strokeWidth":2.4},
"encoding":{"x":{"field":"i","type":"quantitative","scale":{"domain":[-25,525],"nice":false,"zero":false},"axis":{"title":null,"values":[0,50,100,150,200,250,300,350,400,450,500],"labelExpr":"datum.value % 100 === 0 ? datum.label : ''","tickOpacity":{"condition":{"test":"datum.value % 100 === 0","value":1},"value":0},"gridWidth":{"condition":{"test":"datum.value % 100 === 0","value":2.2},"value":1.1}}},
"y":{"field":"value","type":"quantitative","scale":{"domain":[-8.44,10.0],"nice":false,"zero":false},"axis":{"title":null,"format":"d","minExtent":50,"values":[-7.5,-5,-2.5,0,2.5,5,7.5,10],"labelExpr":"datum.value % 5 === 0 ? datum.label : ''","tickOpacity":{"condition":{"test":"datum.value % 5 === 0","value":1},"value":0},"gridWidth":{"condition":{"test":"datum.value % 5 === 0","value":2.2},"value":1.1}}},
"color":{"field":"chain","type":"nominal"}}}
],"spacing":-11},
{"vconcat":[
{"width":371,"height":47,"data":{"values":[{"p":"sigma_SBP"}]},"view":{"fill":"#D9D9D9","stroke":null},"mark":{"type":"text","fontSize":22,"color":"#1A1A1A","dy":3},"encoding":{"text":{"field":"p","type":"nominal"}}},
{"width":371,"height":160,"data":{"name":"e"},"transform":[{"fold":["1","2","3"],"as":["chain","value"]}],"view":{"fill":"#F0F0F0","stroke":"#D9D9D9","strokeWidth":2},"mark":{"type":"line","strokeWidth":2.4},
"encoding":{"x":{"field":"i","type":"quantitative","scale":{"domain":[-25,525],"nice":false,"zero":false},"axis":{"title":"iteration","titlePadding":6,"values":[0,50,100,150,200,250,300,350,400,450,500],"labelExpr":"datum.value % 100 === 0 ? datum.label : ''","tickOpacity":{"condition":{"test":"datum.value % 100 === 0","value":1},"value":0},"gridWidth":{"condition":{"test":"datum.value % 100 === 0","value":2.2},"value":1.1}}},
"y":{"field":"value","type":"quantitative","scale":{"domain":[11.98,17.37],"nice":false,"zero":false},"axis":{"title":null,"format":"d","minExtent":39,"values":[12,12.5,13,13.5,14,14.5,15,15.5,16,16.5,17],"labelExpr":"datum.value % 1 === 0 ? datum.label : ''","tickOpacity":{"condition":{"test":"datum.value % 1 === 0","value":1},"value":0},"gridWidth":{"condition":{"test":"datum.value % 1 === 0","value":2.2},"value":1.1}}},
"color":{"field":"chain","type":"nominal"}}}
],"spacing":0},
{"vconcat":[
{"width":371,"height":47,"data":{"values":[{"p":"WC"}]},"view":{"fill":"#D9D9D9","stroke":null},"mark":{"type":"text","fontSize":22,"color":"#1A1A1A","dy":3},"encoding":{"text":{"field":"p","type":"nominal"}}},
{"width":371,"height":160,"data":{"name":"f"},"transform":[{"fold":["1","2","3"],"as":["chain","value"]}],"view":{"fill":"#F0F0F0","stroke":"#D9D9D9","strokeWidth":2},"mark":{"type":"line","strokeWidth":2.4},
"encoding":{"x":{"field":"i","type":"quantitative","scale":{"domain":[-25,525],"nice":false,"zero":false},"axis":{"title":null,"values":[0,50,100,150,200,250,300,350,400,450,500],"labelExpr":"datum.value % 100 === 0 ? datum.label : ''","tickOpacity":{"condition":{"test":"datum.value % 100 === 0","value":1},"value":0},"gridWidth":{"condition":{"test":"datum.value % 100 === 0","value":2.2},"value":1.1}}},
"y":{"field":"value","type":"quantitative","scale":{"domain":[0.0157,0.558],"nice":false,"zero":false},"axis":{"title":null,"format":".1f","minExtent":47,"values":[0.05,0.1,0.15,0.2,0.25,0.3,0.35,0.4,0.45,0.5,0.55],"labelExpr":"round(datum.value*100) % 10 === 0 ? datum.label : ''","tickOpacity":{"condition":{"test":"round(datum.value*100) % 10 === 0","value":1},"value":0},"gridWidth":{"condition":{"test":"round(datum.value*100) % 10 === 0","value":2.2},"value":1.1}}},
"color":{"field":"chain","type":"nominal"}}}
],"spacing":-8.4}
],"columns":3,"spacing":{"row":13,"column":9}}
],
"spacing":0,
"config":{
"font":"Liberation Sans",
"view":{"stroke":null},
"axis":{"labelFont":"Liberation Sans","titleFont":"Liberation Sans","labelFontSize":22,"labelColor":"#4D4D4D","tickColor":"#333333","tickWidth":2,"tickSize":7,"domain":false,"gridColor":"#FFFFFF","labelOverlap":false,"titleFontSize":28.5,"titleFontWeight":"normal","titleColor":"#000000"},
"axisX":{"labelPadding":4,"minExtent":36},
"axisY":{"labelPadding":6},
"range":{"category":["#7A3548","#5CB4BA","#6F5497"]},
"legend":{"orient":"none","legendX":548,"legendY":588,"direction":"horizontal","titleOrient":"left","titleAnchor":"middle","titleBaseline":"middle","titleFont":"Liberation Sans","labelFont":"Liberation Sans","titleFontSize":28.5,"titleFontWeight":"normal","titleColor":"#000000","labelFontSize":22,"labelColor":"#000000","symbolType":"stroke","symbolSize":1369,"symbolStrokeWidth":2.4,"labelOffset":17,"columnPadding":15,"titlePadding":19},
"locale":{"number":{"decimal":".","thousands":",","grouping":[3],"currency":["$",""],"minus":"-"}}
}
}
